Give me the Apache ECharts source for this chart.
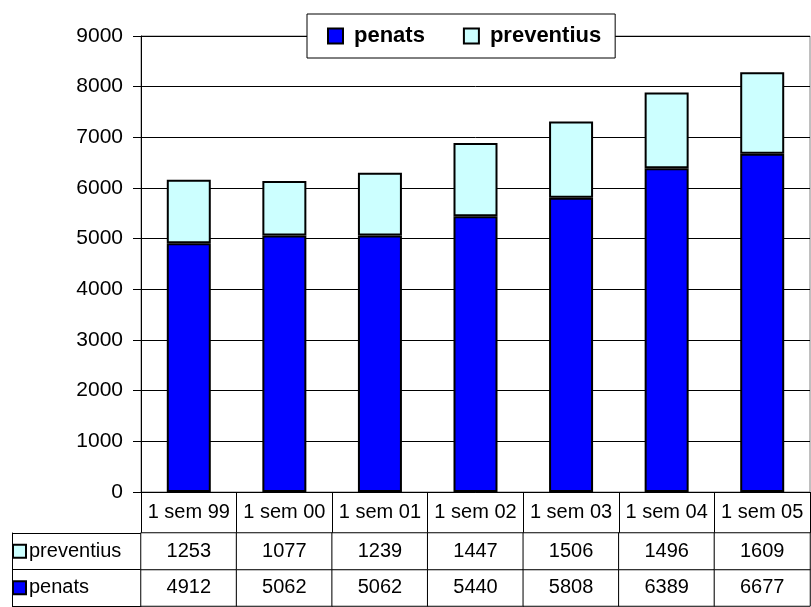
<!DOCTYPE html>
<html>
<head>
<meta charset="utf-8">
<script src="https://cdn.jsdelivr.net/npm/echarts@6/dist/echarts.min.js"></script>
<style>
html,body{margin:0;padding:0;background:#fff;}
#c{width:811px;height:607px;}
</style>
</head>
<body>
<div id="c"></div>
<script>
const categories = ['1 sem 99', '1 sem 00', '1 sem 01', '1 sem 02', '1 sem 03', '1 sem 04', '1 sem 05'];
const penats = [4912, 5062, 5062, 5440, 5808, 6389, 6677];
const preventius = [1253, 1077, 1239, 1447, 1506, 1496, 1609];
const tableRows = ['penats', 'preventius'];
const colors = { penats: '#0000FF', preventius: '#CCFFFF' };

const FONT = "'Liberation Sans', Arial, sans-serif";
const FS = 20;

const tableData = [];
categories.forEach((c, i) => {
  tableData.push([i, 0, penats[i]]);
  tableData.push([i, 1, preventius[i]]);
});

const chart = echarts.init(document.getElementById('c'), null, { renderer: 'canvas' });
chart.setOption({
  animation: false,
  backgroundColor: '#fff',
  textStyle: { fontFamily: FONT },
  legend: {
    left: 307, top: 14,
    padding: [11, 14, 11, 20],
    itemGap: 38,
    itemWidth: 15, itemHeight: 15,
    icon: 'rect',
    backgroundColor: '#fff',
    borderColor: '#000', borderWidth: 1,
    textStyle: { fontFamily: FONT, fontSize: 22, fontWeight: 'bold', color: '#000', padding: [0, 0, 0, 6] },
    itemStyle: { borderColor: '#000', borderWidth: 2 },
    data: ['penats', 'preventius']
  },
  grid: [
    { left: 141, right: 1, top: 36, bottom: 115, show: true, borderColor: '#808080', borderWidth: 1, z: 0 },
    { left: 141, right: 1, top: 533, bottom: 1 }
  ],
  xAxis: [
    {
      gridIndex: 0, type: 'category', data: categories,
      axisLine: { show: true, lineStyle: { color: '#000', width: 1 } },
      axisTick: { show: true, interval: 0, length: 41, lineStyle: { color: '#000', width: 1 } },
      axisLabel: { interval: 0, margin: 10, fontFamily: FONT, fontSize: FS, color: '#000' },
      splitLine: { show: false }
    },
    {
      gridIndex: 1, type: 'category', data: categories, show: false
    }
  ],
  yAxis: [
    {
      gridIndex: 0, type: 'value', min: 0, max: 9000, interval: 1000,
      axisLine: { show: true, lineStyle: { color: '#000', width: 1 } },
      axisTick: { show: true, length: 8, lineStyle: { color: '#000' } },
      axisLabel: { margin: 18, fontFamily: FONT, fontSize: 21, color: '#000', formatter: v => String(v) },
      splitLine: { show: true, lineStyle: { color: '#000', width: 1 } }
    },
    {
      gridIndex: 1, type: 'category', data: tableRows,
      axisLine: { show: true, lineStyle: { color: '#000', width: 1 } },
      axisTick: { show: true, interval: 0, length: 129, lineStyle: { color: '#000', width: 1 } },
      axisLabel: {
        interval: 0, margin: 127, align: 'left',
        fontFamily: FONT, fontSize: FS, color: '#000',
        formatter: v => '{' + v + '|}{t|' + v + '}',
        rich: {
          penats: { width: 11, height: 11, backgroundColor: colors.penats, borderColor: '#000', borderWidth: 2 },
          preventius: { width: 11, height: 11, backgroundColor: colors.preventius, borderColor: '#000', borderWidth: 2 },
          t: { fontFamily: FONT, fontSize: FS, color: '#000', padding: [0, 0, 0, 4] }
        }
      },
      splitLine: { show: false }
    },
    {
      gridIndex: 1, type: 'category', data: tableRows, position: 'left', offset: 129,
      axisLine: { show: true, lineStyle: { color: '#000', width: 1 } },
      axisTick: { show: false }, axisLabel: { show: false }, splitLine: { show: false }
    }
  ],
  series: [
    {
      name: 'penats', type: 'bar', stack: 'total', xAxisIndex: 0, yAxisIndex: 0,
      data: penats, barWidth: 44,
      itemStyle: { color: colors.penats, borderColor: '#000', borderWidth: 2 }
    },
    {
      name: 'preventius', type: 'bar', stack: 'total', xAxisIndex: 0, yAxisIndex: 0,
      data: preventius, barWidth: 44,
      itemStyle: { color: colors.preventius, borderColor: '#000', borderWidth: 2 }
    },
    {
      name: 'table', type: 'heatmap', xAxisIndex: 1, yAxisIndex: 1,
      data: tableData,
      itemStyle: { color: '#fff', borderColor: '#000', borderWidth: 1 },
      label: { show: true, fontFamily: FONT, fontSize: FS, color: '#000', formatter: p => String(p.value[2]) },
      emphasis: { disabled: true }
    }
  ]
});
</script>
</body>
</html>
